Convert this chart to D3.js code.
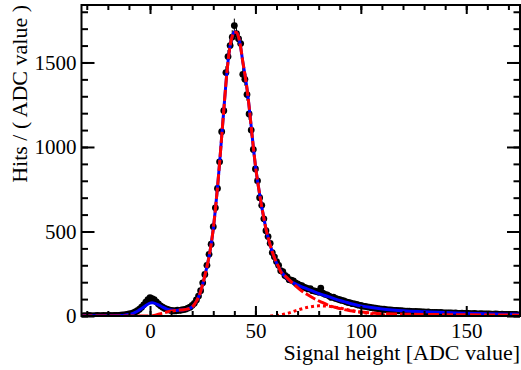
<!DOCTYPE html>
<html>
<head>
<meta charset="utf-8">
<script src="https://cdn.jsdelivr.net/npm/d3@7"></script>
<style>
  body { margin: 0; background: #fff; }
  text { font-family: "Liberation Serif", "Times New Roman", serif; }
</style>
</head>
<body>
<div id="chart"></div>
<script>
// histogram bins: centres -32 ... 174, width 1 ADC
var binStart = -32;
var counts = [
  1, 2, 1, 3, 2, 1, 2, 3, 2, 2, 3, 2, 4, 3, 2, 4, 3,            // -32 .. -16
  4, 5, 6, 7, 9, 12, 14, 19, 24, 31, 40, 52, 66, 82, 96,        // -15 .. -1
  108, 103, 97, 84, 71, 60, 52, 45, 40, 36, 33, 31, 30, 34, 33, // 0 .. 14
  36, 38, 41, 47, 52, 63, 75, 95, 118, 150, 196, 246, 300, 365, 425, // 15 .. 29
  528, 640, 755, 912, 1090, 1215, 1440, 1535, 1600, 1650,       // 30 .. 39
  1718, 1670, 1640, 1612, 1430, 1400, 1310, 1195, 1100, 985,    // 40 .. 49
  870, 800, 700, 655, 575, 505, 470, 430, 375, 350,             // 50 .. 59
  322, 300, 268, 262, 240, 232, 215, 212, 207, 196,             // 60 .. 69
  190, 182, 180, 170, 166, 160, 162, 150, 148, 145,             // 70 .. 79
  140, 165, 135, 128, 125, 118, 110, 112, 104, 100,             // 80 .. 89
  96, 92, 90, 84, 80, 78, 73, 72, 68, 64,                       // 90 .. 99
  62, 58, 57, 54, 52, 49, 48, 46, 44, 42,                       // 100 .. 109
  40, 40, 38, 36, 36, 34, 33, 33, 31, 31,                       // 110 .. 119
  30, 29, 29, 28, 27, 26, 27, 25, 25, 24,                       // 120 .. 129
  24, 23, 24, 22, 22, 21, 21, 20, 21, 19,                       // 130 .. 139
  19, 19, 18, 18, 17, 18, 16, 16, 17, 15,                       // 140 .. 149
  15, 16, 14, 14, 15, 13, 13, 14, 12, 12,                       // 150 .. 159
  12, 13, 11, 11, 12, 11, 10, 11, 10, 10,                       // 160 .. 169
  10, 9, 10, 9, 9                                               // 170 .. 174
];

// fit curves, [ADC value, hits]
var totalFit = [[-32.5,2],[-20,2],[-15,3],[-12,5],[-10,9],[-8,16],[-6,28],[-4,44],[-2,62],[0,76],[1,78],[2,76],
  [4,66],[6,52],[8,41],[10,35],[12,33],[14,35],[16,37],[18,42],[19,46],[20,54],[21,68],[22,88],[23,112],
  [24,145],[25,188],[26,238],[27,292],[28,352],[29,425],[30,515],[31,630],[32,760],[33,905],[34,1062],
  [35,1220],[36,1375],[37,1505],[38,1600],[39,1655],[40,1680],[41,1678],[42,1650],[43,1590],[44,1505],
  [45,1430],[46,1345],[47,1240],[48,1120],[49,1000],[50,890],[51,800],[52,720],[53,645],[54,580],[55,515],
  [56,465],[57,420],[58,380],[59,345],[60,315],[61,290],[62,268],[63,250],[64,235],[65,222],[66,211],
  [68,196],[70,184],[72,173],[74,163],[76,153],[78,143],[80,133],[82,125],[84,117],[86,109],[88,100],
  [90,92],[92,85],[94,78],[96,71],[98,65],[100,60],[105,50],[110,42],[115,36],[120,31],[130,25],[140,20],
  [150,16],[160,13],[175.5,10]];
var mainLow = [[-32.5,0],[0,0],[2,3],[4,10],[6,17],[8,24],[10,29],[12,32]];
var mainTail = [[62,262],[64,238],[66,214],[68,190],[70,168],[72,148],[75,124],[78,102],[81,84],[85,62],
  [90,44],[95,31],[100,23],[105,18],[110,14],[120,11],[130,9],[140,8],[150,7],[160,6],[175.5,5]];
var secondPeak = [[57,0],[60,3],[65,15],[70,35],[75,52],[80,60],[85,57],[90,47],[95,34],[100,22],
  [105,13],[110,7],[115,3],[120,1],[125,0]];
var flatBkg = [[-32.5,1],[175.5,1]];

var xMajor = [0, 50, 100, 150];
var yMajor = [0, 500, 1000, 1500];

var svgW = 521, svgH = 370;
var frameL = 81.5, frameR = 520, frameT = 5, frameB = 316;

var x = d3.scaleLinear().domain([-32.5, 175.5]).range([frameL, frameR]);
var y = d3.scaleLinear().domain([0, 1840]).range([frameB, frameT]);

var svg = d3.select('#chart')
  .append('svg')
  .attr('width', svgW)
  .attr('height', svgH);

var clip = svg.append('defs').append('clipPath').attr('id', 'frame-clip');
clip.append('rect')
  .attr('x', frameL).attr('y', frameT)
  .attr('width', frameR - frameL).attr('height', frameB - frameT);

var plot = svg.append('g').attr('clip-path', 'url(#frame-clip)');

var line = d3.line()
  .x(function(d) { return x(d[0]); })
  .y(function(d) { return y(d[1]); })
  .curve(d3.curveMonotoneX);

// main component follows the total fit between the pedestal and the tail
var mainFit = mainLow
  .concat(totalFit.filter(function(d) { return d[0] >= 14 && d[0] < 62; }))
  .concat(mainTail);

// thin flat background along zero
plot.append('path')
  .datum(flatBkg)
  .attr('d', line)
  .attr('fill', 'none')
  .attr('stroke', '#5a3cc8')
  .attr('stroke-width', 1)
  .attr('stroke-dasharray', '3,2');

// data points with error bars
var pts = counts.map(function(c, i) { return { u: binStart + i, v: c }; });

plot.append('g')
  .selectAll('line')
  .data(pts)
  .join('line')
  .attr('x1', function(d) { return x(d.u); })
  .attr('x2', function(d) { return x(d.u); })
  .attr('y1', function(d) { return y(d.v + Math.sqrt(d.v)); })
  .attr('y2', function(d) { return y(Math.max(0, d.v - Math.sqrt(d.v))); })
  .attr('stroke', '#000')
  .attr('stroke-width', 1);

plot.append('g')
  .selectAll('circle')
  .data(pts)
  .join('circle')
  .attr('cx', function(d) { return x(d.u); })
  .attr('cy', function(d) { return y(d.v); })
  .attr('r', 3.4)
  .attr('fill', '#000');

// total fit (blue)
plot.append('path')
  .datum(totalFit)
  .attr('d', line)
  .attr('fill', 'none')
  .attr('stroke', '#0000ff')
  .attr('stroke-width', 3);

// second peak (red dotted)
plot.append('path')
  .datum(secondPeak)
  .attr('d', line)
  .attr('fill', 'none')
  .attr('stroke', '#ff0000')
  .attr('stroke-width', 3)
  .attr('stroke-dasharray', '3,3');

// main component (red dashed, over the blue)
plot.append('path')
  .datum(mainFit)
  .attr('d', line)
  .attr('fill', 'none')
  .attr('stroke', '#ff0000')
  .attr('stroke-width', 3)
  .attr('stroke-dasharray', '11,3');

// axes: inward ticks on all four sides
function styleAxis(g) {
  g.select('.domain').remove();
  g.selectAll('line').attr('stroke', '#000').attr('stroke-width', 2);
  g.selectAll('text')
    .attr('font-family', '"Liberation Serif", serif')
    .attr('font-size', 21)
    .attr('fill', '#000');
}

var xMinor = x.ticks(20);
var yMinor = d3.range(0, 1900, 100);

svg.append('g').attr('transform', 'translate(0,' + frameB + ')')
  .call(d3.axisBottom(x).tickValues(xMinor).tickSize(-5).tickFormat(''))
  .call(styleAxis);
svg.append('g').attr('transform', 'translate(0,' + frameB + ')')
  .call(d3.axisBottom(x).tickValues(xMajor).tickSize(-10).tickPadding(7).tickFormat(d3.format('d')))
  .call(styleAxis);
svg.append('g').attr('transform', 'translate(0,' + frameT + ')')
  .call(d3.axisTop(x).tickValues(xMinor).tickSize(-5).tickFormat(''))
  .call(styleAxis);
svg.append('g').attr('transform', 'translate(0,' + frameT + ')')
  .call(d3.axisTop(x).tickValues(xMajor).tickSize(-9).tickFormat(''))
  .call(styleAxis);

svg.append('g').attr('transform', 'translate(' + frameL + ',0)')
  .call(d3.axisLeft(y).tickValues(yMinor).tickSize(-6.5).tickFormat(''))
  .call(styleAxis);
svg.append('g').attr('transform', 'translate(' + frameL + ',0)')
  .call(d3.axisLeft(y).tickValues(yMajor).tickSize(-13).tickPadding(5).tickFormat(d3.format('d')))
  .call(styleAxis);
svg.append('g').attr('transform', 'translate(' + frameR + ',0)')
  .call(d3.axisRight(y).tickValues(yMinor).tickSize(-6.5).tickFormat(''))
  .call(styleAxis);
svg.append('g').attr('transform', 'translate(' + frameR + ',0)')
  .call(d3.axisRight(y).tickValues(yMajor).tickSize(-13).tickFormat(''))
  .call(styleAxis);

// frame
svg.append('rect')
  .attr('x', frameL).attr('y', frameT)
  .attr('width', frameR - frameL).attr('height', frameB - frameT)
  .attr('fill', 'none')
  .attr('stroke', '#000')
  .attr('stroke-width', 2);

// axis titles
svg.append('text')
  .attr('x', frameR)
  .attr('y', 360)
  .attr('text-anchor', 'end')
  .attr('font-size', 22)
  .text('Signal height [ADC value]');

svg.append('text')
  .attr('transform', 'translate(27,' + frameT + ') rotate(-90)')
  .attr('text-anchor', 'end')
  .attr('font-size', 22)
  .text('Hits / ( ADC value )');
</script>
</body>
</html>
